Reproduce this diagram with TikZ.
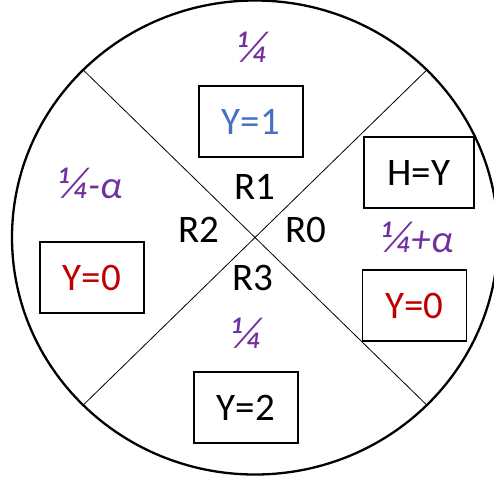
\documentclass[tikz,border=0pt]{standalone}
\usepackage{fontspec}
\setmainfont{Carlito}
\usepackage{xcolor}
\usetikzlibrary{math}
\definecolor{mypurple}{RGB}{112,48,160}
\definecolor{myblue}{RGB}{68,114,196}
\definecolor{myred}{RGB}{192,0,0}
\newcommand{\qtr}{{\fontsize{45}{45}\selectfont ¼}}

\tikzset{
  valbox/.style={draw, line width=1.6, minimum width=104, minimum height=71, inner sep=0},
  prob/.style={text=mypurple, inner sep=0, font=\fontsize{39}{40}\selectfont\itshape},
  region/.style={anchor=base, inner sep=0}
}

\begin{document}
\begin{tikzpicture}[x=1pt,y=-1pt,font=\fontsize{39}{40}\selectfont]
\tikzmath{
\rx=243;
\ry=237;
}
\useasboundingbox (0,0) rectangle (494,482);
\clip (0,0) rectangle (494,482);

\coordinate (O) at (255,237.5);
\draw[line width=2.3] (O) ellipse ({\rx} and {\ry});
\draw[line width=0.8] (O) +(45:{\rx} and {\ry}) -- +(225:{\rx} and {\ry});
\draw[line width=0.8] (O) +(135:{\rx} and {\ry}) -- +(315:{\rx} and {\ry});

\node[region] (r1) at (255,199) {R1};
\node[region] (r2) at (199,242) {R2};
\node[region] (r0) at (306,242) {R0};
\node[region] (r3) at (253,290) {R3};

\node[valbox, text=myblue] (y1) at (251,121.5) {Y=1};
\node[valbox, minimum width=110] (hy) at (419,172.5) {H=Y};
\node[valbox, text=myred] (y0r) at (414.5,305.5) {Y=0};
\node[valbox, text=myred] (y0l) at (92,277.5) {Y=0};
\node[valbox] (y2) at (246,407.5) {Y=2};

\node[prob] (p1) at (253,47) {\qtr};
\node[prob] (p2) at (91,183) {\qtr-α};
\node[prob] (p0) at (418,237) {\qtr+α};
\node[prob] (p3) at (247,333) {\qtr};
\end{tikzpicture}
\end{document}
